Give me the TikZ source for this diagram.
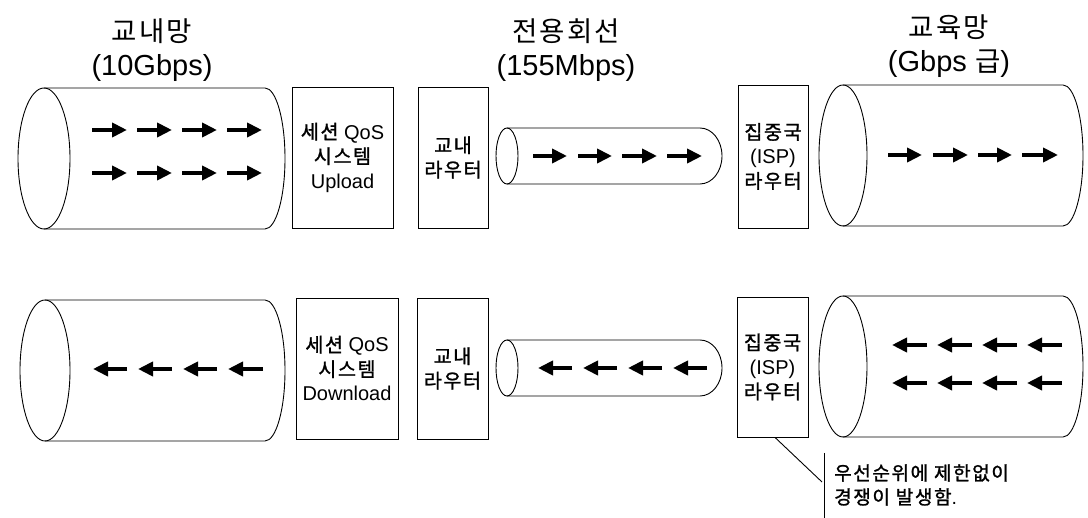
\documentclass[tikz,border=0pt]{standalone}
\usepackage{fontspec}
\setmainfont{Liberation Sans}
\newfontfamily\kr[Scale=0.95,LetterSpace=8]{Noto Sans CJK KR}
\newfontfamily\krb[Scale=0.98,LetterSpace=8,FakeBold=1.3]{Noto Sans CJK KR}
\newcommand{\K}[1]{{\kr #1}}
\newcommand{\KB}[1]{{\krb #1}}
\usetikzlibrary{arrows.meta}
\newcommand{\drawpipe}[6]{%
  \pgfmathsetmacro\pcy{(#3+#4)/2}%
  \pgfmathsetmacro\pry{(#4-#3)/2}%
  \draw[pline] (#1,\pcy) ellipse[x radius=#2, y radius=\pry];
  \draw[pline] (#1,#4) -- ({#5-#6},#4) arc[start angle=90,end angle=-90,x radius=#6,y radius=\pry] -- (#1,#3);
}
\tikzset{
  pline/.style={line width=0.9pt, black},
  box/.style={draw, line width=0.9pt, rectangle, align=center, inner sep=0pt,
     font=\fontsize{20}{24.5}\selectfont},
  title/.style={align=center, font=\fontsize{29}{34}\selectfont, inner sep=0pt},
  farr/.style={line width=3.8pt, -{Triangle[length=15pt,width=14pt]}},
}
\begin{document}
\begin{tikzpicture}[x=1pt,y=1pt]
\fill[white] (0,0) rectangle (1088,518);
\useasboundingbox (0,0) rectangle (1088,518);

% titles
\node[title] (t1) at (152,468) {\K{교내망}\\(10Gbps)};
\node[title] (t2) at (566,468) {\K{전용회선}\\(155Mbps)};
\node[title] (t3) at (949,472) {\K{교육망}\\(Gbps \K{급})};

% top row pipes
\drawpipe{44}{26}{289}{430}{285}{20}
\drawpipe{507}{11}{334}{390}{722}{22}
\drawpipe{843}{24}{292}{433}{1083}{20}

% bottom row pipes
\drawpipe{45}{25}{77}{218}{285}{20}
\drawpipe{507}{11}{122}{178}{722}{22}
\drawpipe{843}{24}{81}{222}{1083}{20}

% boxes top
\node[box, minimum width=101pt, minimum height=141pt] (up) at (342.5,360.5) {\KB{세션} QoS\\\KB{시스템}\\Upload};
\node[box, minimum width=70pt, minimum height=141pt] (rt) at (453,360.5) {\KB{교내}\\\KB{라우터}};
\node[box, minimum width=70pt, minimum height=143pt] (it) at (773,361.5) {\KB{집중국}\\(ISP)\\\KB{라우터}};

% boxes bottom
\node[box, minimum width=102pt, minimum height=141pt] (dn) at (347,149.5) {\KB{세션} QoS\\\KB{시스템}\\Download};
\node[box, minimum width=71pt, minimum height=141pt] (rb) at (452.5,149.5) {\KB{교내}\\\KB{라우터}};
\node[box, minimum width=71pt, minimum height=140pt] (ib) at (772.5,151) {\KB{집중국}\\(ISP)\\\KB{라우터}};

% top arrows (right)
\foreach \a/\b in {92/127,137/172,182/217,227/262}{
  \draw[farr] (\a,388) -- (\b,388);
  \draw[farr] (\a,345) -- (\b,345);
}
\foreach \a/\b in {533/567,578/612,622/657,667/702}{
  \draw[farr] (\a,362) -- (\b,362);
}
\foreach \a/\b in {888/922,933/968,978/1012,1022/1058}{
  \draw[farr] (\a,363) -- (\b,363);
}

% bottom arrows (left)
\foreach \a/\b in {93/127,138/172,183/217,228/263}{
  \draw[farr] (\b,149) -- (\a,149);
}
\foreach \a/\b in {538/572,583/617,628/662,673/707}{
  \draw[farr] (\b,150) -- (\a,150);
}
\foreach \a/\b in {892/927,937/972,982/1017,1027/1062}{
  \draw[farr] (\b,173) -- (\a,173);
  \draw[farr] (\b,135) -- (\a,135);
}

% callout
\coordinate (ce) at (822,36);
\coordinate (vt) at (824,65);
\coordinate (vb) at (824,0);
\draw[pline] (ib.south) ++(2.5,0) coordinate (cs) -- (ce);
\draw[pline] (vt) -- (vb);
\node[anchor=west, align=left, inner sep=0pt, font=\fontsize{19.5}{24}\selectfont] (note) at (834,33)
  {\KB{우선순위에 제한없이}\\\KB{경쟁이 발생함}.};
\end{tikzpicture}
\end{document}
